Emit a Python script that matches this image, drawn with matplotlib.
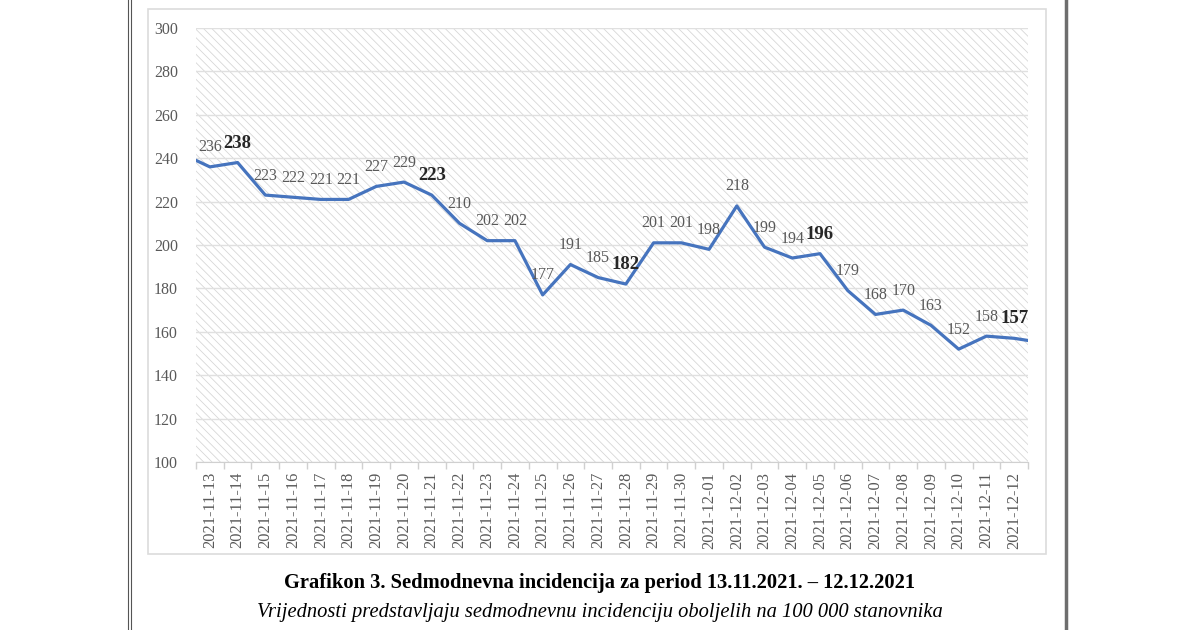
import numpy as np
import matplotlib.pyplot as plt
from matplotlib.patches import Rectangle
from matplotlib.lines import Line2D

# podaci: sedmodnevna incidencija na 100 000 stanovnika
dates = ['2021-11-13', '2021-11-14', '2021-11-15', '2021-11-16', '2021-11-17',
         '2021-11-18', '2021-11-19', '2021-11-20', '2021-11-21', '2021-11-22',
         '2021-11-23', '2021-11-24', '2021-11-25', '2021-11-26', '2021-11-27',
         '2021-11-28', '2021-11-29', '2021-11-30', '2021-12-01', '2021-12-02',
         '2021-12-03', '2021-12-04', '2021-12-05', '2021-12-06', '2021-12-07',
         '2021-12-08', '2021-12-09', '2021-12-10', '2021-12-11', '2021-12-12']
values = [236, 238, 223, 222, 221, 221, 227, 229, 223, 210,
          202, 202, 177, 191, 185, 182, 201, 201, 198, 218,
          199, 194, 196, 179, 168, 170, 163, 152, 158, 157]
bold_dates = ['2021-11-14', '2021-11-21', '2021-11-28', '2021-12-05', '2021-12-12']
# linija ulazi/izlazi iz okvira (dan prije i dan poslije perioda)
value_before = 242
value_after = 155

serif = 'Liberation Serif'
plt.rcParams['font.family'] = serif
plt.rcParams['hatch.linewidth'] = 0.55

fig = plt.figure(figsize=(12, 6.3), dpi=100)
ax = fig.add_axes([196/1200, 1 - 462/630, 832/1200, 434/630])
ax.set_facecolor('none')

# srafirana pozadina
ax.add_patch(Rectangle((0, 0), 1, 1, transform=ax.transAxes, facecolor='white',
                       edgecolor='#d4d4d4', hatch='\\\\\\\\', lw=0, zorder=0))

x = np.arange(len(dates))
x_full = np.concatenate([[-1], x, [len(dates)]])
y_full = np.concatenate([[value_before], values, [value_after]])
ax.plot(x_full, y_full, color='#4674BE', lw=2.3, zorder=3, solid_joinstyle='round')

for xi, d, v in zip(x, dates, values):
    if d in bold_dates:
        ax.annotate(str(v), (xi, v), xytext=(0, 14), textcoords='offset points',
                    ha='center', va='center', fontsize=13.5, fontweight='bold',
                    color='#262626', zorder=4)
    else:
        ax.annotate(str(v), (xi, v), xytext=(0, 14), textcoords='offset points',
                    ha='center', va='center', fontsize=11.5, color='#595959', zorder=4)

ax.set_xlim(-0.5, len(dates) - 0.5)
ax.set_ylim(100, 300)
ax.set_yticks(np.arange(100, 301, 20))
ax.set_xticks(x)
ax.set_xticklabels(dates, rotation=90, fontsize=11.8, color='#595959')
ax.set_xticks(np.arange(-0.5, len(dates), 1), minor=True)
ax.tick_params(axis='x', which='major', length=0, pad=7)
ax.tick_params(axis='x', which='minor', length=5, color='#d0d0d0', width=1)
ax.tick_params(axis='y', length=0, pad=13, labelsize=11.5, labelcolor='#595959')

ax.grid(axis='y', color='#e0e0e0', lw=1)
ax.set_axisbelow(True)
for s in ['top', 'right', 'left']:
    ax.spines[s].set_visible(False)
ax.spines['bottom'].set_color('#d0d0d0')

# okvir grafikona i rubovi stranice
fig.add_artist(Rectangle((148/1200, 1 - 554/630), 898/1200, 545/630,
                         transform=fig.transFigure, fill=False,
                         edgecolor='#dcdcdc', lw=1.2))
fig.add_artist(Line2D([128/1200, 128/1200], [0, 1], transform=fig.transFigure,
                      color='#555555', lw=0.8))
fig.add_artist(Line2D([131/1200, 131/1200], [0, 1], transform=fig.transFigure,
                      color='#555555', lw=0.8))
fig.add_artist(Line2D([1066/1200, 1066/1200], [0, 1], transform=fig.transFigure,
                      color='#6e6e6e', lw=2.5))

fig.text(0.5, 1 - 583/630, 'Grafikon 3. Sedmodnevna incidencija za period 13.11.2021. – 12.12.2021',
         ha='center', va='center', fontsize=14.8, fontweight='bold', color='black')
fig.text(0.5, 1 - 613/630, 'Vrijednosti predstavljaju sedmodnevnu incidenciju oboljelih na 100 000 stanovnika',
         ha='center', va='center', fontsize=14.8, fontstyle='italic', color='black')

fig.savefig('out.png', dpi=100, facecolor='white')
